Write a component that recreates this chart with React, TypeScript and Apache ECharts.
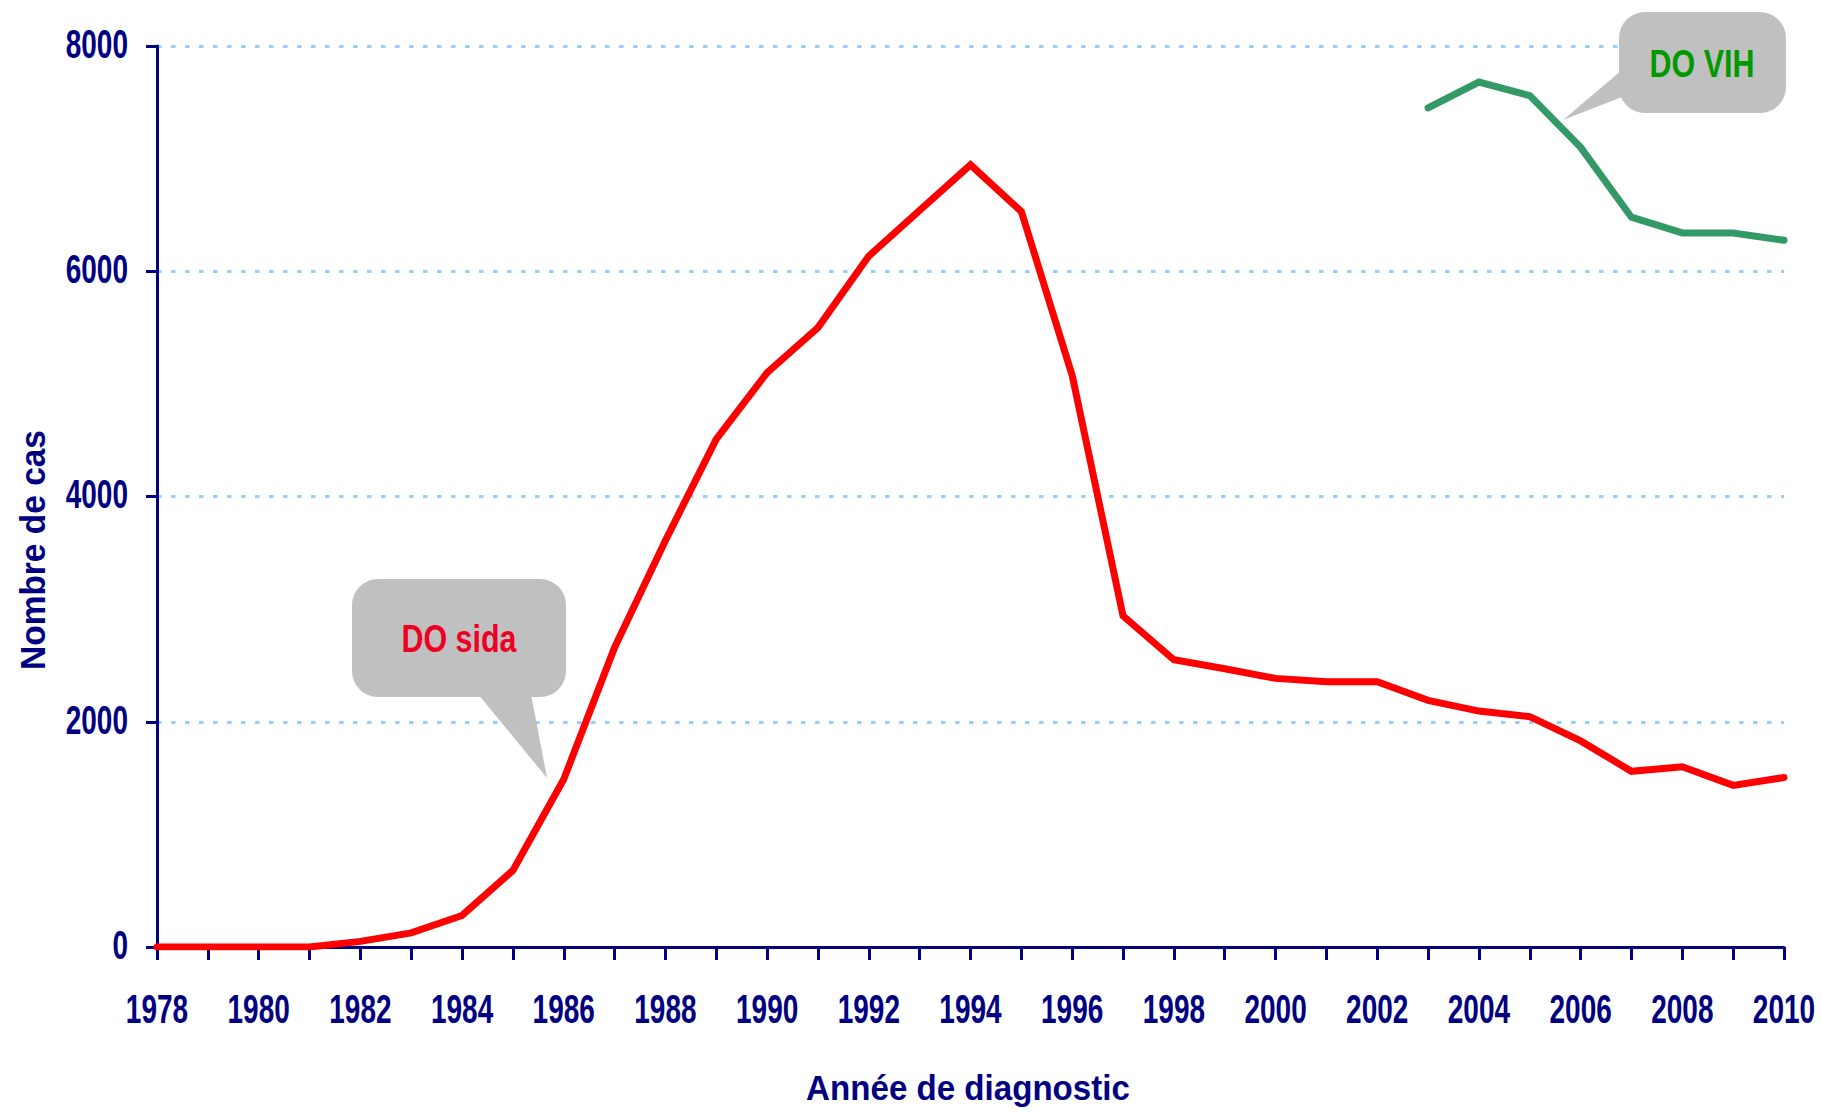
import React, { useEffect, useRef } from "react";
import * as echarts from "echarts";

const years = [
  "1978", "1979", "1980", "1981", "1982", "1983", "1984", "1985", "1986", "1987",
  "1988", "1989", "1990", "1991", "1992", "1993", "1994", "1995", "1996", "1997",
  "1998", "1999", "2000", "2001", "2002", "2003", "2004", "2005", "2006", "2007",
  "2008", "2009", "2010",
];

const xTickLabels = [
  "1978", "1980", "1982", "1984", "1986", "1988", "1990", "1992", "1994",
  "1996", "1998", "2000", "2002", "2004", "2006", "2008", "2010",
];

const sidaValues = [
  0, 0, 0, 0, 50, 125, 280, 680, 1490, 2660,
  3610, 4510, 5100, 5500, 6135, 6540, 6945, 6530, 5075, 2940,
  2550, 2470, 2385, 2355, 2355, 2190, 2095, 2045, 1830, 1560,
  1600, 1435, 1505,
];

const vihYears = ["2003", "2004", "2005", "2006", "2007", "2008", "2009", "2010"];
const vihValues = [7450, 7680, 7560, 7100, 6480, 6340, 6340, 6275];

const yTickValues = [0, 2000, 4000, 6000, 8000];
const yMin = 0;
const yMax = 8000;
const yInterval = 2000;

const xAxisTitle = "Année de diagnostic";
const yAxisTitle = "Nombre de cas";
const sidaLabel = "DO sida";
const vihLabel = "DO VIH";

const FONT = '"Liberation Sans", Arial, Helvetica, sans-serif';
const NAVY = "#000080";

if (typeof document !== "undefined") {
  document.documentElement.style.overflow = "hidden";
  document.body.style.margin = "0";
  document.body.style.overflow = "hidden";
}

export default function App() {
  const ref = useRef<HTMLDivElement>(null);

  useEffect(() => {
    document.body.style.margin = "0";
    if (!ref.current) return;
    const chart = echarts.init(ref.current, undefined, {
      renderer: "svg",
      width: 1822,
      height: 1112,
    });

    const vihSeries = years.map((y) => {
      const i = vihYears.indexOf(y);
      return i >= 0 ? vihValues[i] : null;
    });

    chart.setOption({
      animation: false,
      backgroundColor: "#ffffff",
      grid: { left: 157, right: 38, top: 46, bottom: 165, containLabel: false },
      xAxis: {
        type: "category",
        data: years,
        boundaryGap: false,
        axisLine: { show: true, lineStyle: { color: NAVY, width: 3 } },
        axisTick: { show: true, interval: 0, length: 13, lineStyle: { color: NAVY, width: 3 } },
        axisLabel: { show: false },
        splitLine: { show: false },
      },
      yAxis: {
        type: "value",
        min: yMin,
        max: yMax,
        interval: yInterval,
        axisLine: { show: true, lineStyle: { color: NAVY, width: 3 } },
        axisTick: { show: true, length: 11, lineStyle: { color: NAVY, width: 3 } },
        axisLabel: { show: false },
        splitLine: {
          show: true,
          lineStyle: { color: "#99CCFF", width: 3, type: [4.5, 9.5] },
        },
      },
      series: [
        {
          name: sidaLabel,
          type: "line",
          data: sidaValues,
          symbol: "none",
          lineStyle: { color: "#FF0000", width: 7, join: "miter", cap: "round" },
          z: 3,
        },
        {
          name: vihLabel,
          type: "line",
          data: vihSeries,
          symbol: "none",
          connectNulls: false,
          lineStyle: { color: "#339966", width: 7, join: "miter", cap: "round" },
          z: 3,
        },
      ],
    });

    const tickLabelGraphics: any[] = [];
    xTickLabels.forEach((lab) => {
      const px = chart.convertToPixel({ xAxisIndex: 0 }, lab) as number;
      const py = chart.convertToPixel({ yAxisIndex: 0 }, yMin) as number;
      tickLabelGraphics.push({
        type: "text",
        x: px,
        y: py + 62,
        scaleX: 0.7,
        style: {
          text: lab,
          fill: NAVY,
          font: `bold 40px ${FONT}`,
          align: "center",
          verticalAlign: "middle",
        },
      });
    });
    yTickValues.forEach((v) => {
      const px = chart.convertToPixel({ xAxisIndex: 0 }, years[0]) as number;
      const py = chart.convertToPixel({ yAxisIndex: 0 }, v) as number;
      tickLabelGraphics.push({
        type: "text",
        x: px - 29,
        y: py - 2,
        scaleX: 0.7,
        style: {
          text: String(v),
          fill: NAVY,
          font: `bold 40px ${FONT}`,
          align: "right",
          verticalAlign: "middle",
        },
      });
    });

    chart.setOption({
      graphic: [
        ...tickLabelGraphics,
        {
          type: "text",
          x: 33,
          y: 550,
          rotation: Math.PI / 2,
          scaleX: 0.93,
          style: {
            text: yAxisTitle,
            fill: NAVY,
            font: `bold 36px ${FONT}`,
            align: "center",
            verticalAlign: "middle",
          },
        },
        {
          type: "text",
          x: 968,
          y: 1088,
          scaleX: 0.92,
          style: {
            text: xAxisTitle,
            fill: NAVY,
            font: `bold 36px ${FONT}`,
            align: "center",
            verticalAlign: "middle",
          },
        },
        {
          type: "group",
          z: 100,
          children: [
            {
              type: "polygon",
              shape: { points: [[478, 694], [531, 694], [547, 778]] },
              style: { fill: "#C0C0C0" },
            },
            {
              type: "rect",
              shape: { x: 352, y: 579, width: 214, height: 118, r: 26 },
              style: { fill: "#C0C0C0" },
            },
            {
              type: "text",
              x: 459,
              y: 639,
              scaleX: 0.8,
              style: {
                text: sidaLabel,
                fill: "#EE0022",
                font: `bold 38px ${FONT}`,
                align: "center",
                verticalAlign: "middle",
              },
            },
            {
              type: "polygon",
              shape: { points: [[1622, 70], [1622, 97], [1563, 120]] },
              style: { fill: "#C0C0C0" },
            },
            {
              type: "rect",
              shape: { x: 1619, y: 12, width: 167, height: 101, r: 26 },
              style: { fill: "#C0C0C0" },
            },
            {
              type: "text",
              x: 1702,
              y: 63,
              scaleX: 0.78,
              style: {
                text: vihLabel,
                fill: "#009900",
                font: `bold 39px ${FONT}`,
                align: "center",
                verticalAlign: "middle",
              },
            },
          ],
        },
      ],
    });

    return () => chart.dispose();
  }, []);

  return <div ref={ref} style={{ width: 1822, height: 1112 }} />;
}
